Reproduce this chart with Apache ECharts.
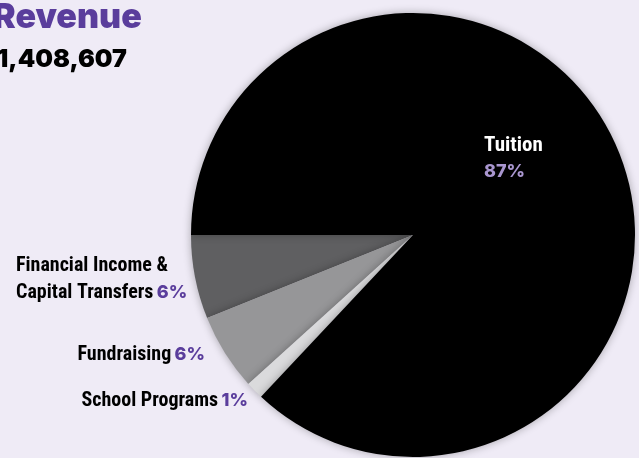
<!DOCTYPE html>
<html>
<head>
<meta charset="utf-8">
<script src="https://cdn.jsdelivr.net/npm/echarts@6/dist/echarts.min.js"></script>
<style>
html,body{margin:0;padding:0;background:#efebf6;}
#c{width:639px;height:458px;}
</style>
</head>
<body>
<div id="c"></div>
<script>
const titleText = 'Revenue';
const totalText = '1,408,607';
const categories = ['Financial Income & Capital Transfers', 'Fundraising', 'School Programs', 'Tuition'];
const labelNames = ['Financial Income &\nCapital Transfers', 'Fundraising', 'School Programs', 'Tuition'];
const values = [6.1, 5.6, 1.3, 87.0];
const pctLabels = ['6%', '6%', '1%', '87%'];
const colors = ['#5f5f61', '#969698', '#dadadc', '#000000'];

const chart = echarts.init(document.getElementById('c'), null, {renderer: 'canvas'});

const condensed = '"Roboto Condensed", "Open Sans Condensed", sans-serif';
const geo = 'Inter, "Noto Sans", sans-serif';

const labelPos = [
  {x: 16, y: 306, align: 'left'},
  {x: 205, y: 368, align: 'right'},
  {x: 248, y: 414, align: 'right'},
  {x: 484, y: 185, align: 'left'}
];

const data = categories.map((c, i) => {
  const isTuition = i === 3;
  return {
    name: c,
    value: values[i],
    itemStyle: {color: colors[i]},
    label: {
      lineHeight: isTuition ? 26 : 27,
      formatter: () => {
        if (isTuition) return '{w|' + labelNames[i] + '}\n{p2|' + pctLabels[i] + '}';
        const lines = labelNames[i].split('\n');
        const last = lines.pop();
        return lines.map(l => '{n|' + l + '}').concat(['{n|' + last + '} {p|' + pctLabels[i] + '}']).join('\n');
      }
    }
  };
});

chart.setOption({
  backgroundColor: '#efebf6',
  animation: false,
  graphic: [
    {type: 'text', left: -7, top: 1, style: {text: titleText, fill: '#5a3d9c', font: '900 34px ' + geo}},
    {type: 'text', left: -3, top: 47, style: {text: totalText, fill: '#000', font: '900 25px ' + geo}}
  ],
  series: [{
    type: 'pie',
    center: [413, 235],
    radius: 222,
    startAngle: 180,
    clockwise: false,
    silent: true,
    avoidLabelOverlap: false,
    itemStyle: {shadowBlur: 8, shadowColor: 'rgba(0,0,0,0.3)'},
    labelLine: {show: false},
    label: {
      show: true,
      position: 'outside',
      overflow: 'none',
      rich: {
        n: {fontFamily: condensed, fontWeight: 'bold', fontSize: 20, color: '#000', lineHeight: 27},
        p: {fontFamily: geo, fontWeight: 800, fontSize: 18, color: '#5a3d9c', lineHeight: 27},
        w: {fontFamily: condensed, fontWeight: 'bold', fontSize: 21, color: '#fff', lineHeight: 26},
        p2: {fontFamily: geo, fontWeight: 800, fontSize: 18, color: '#a996cf', lineHeight: 26}
      }
    },
    labelLayout: (params) => {
      const p = labelPos[params.dataIndex];
      return {x: p.x, y: p.y, align: p.align, verticalAlign: 'bottom', hideOverlap: false};
    },
    data: data
  }]
});
</script>
</body>
</html>
